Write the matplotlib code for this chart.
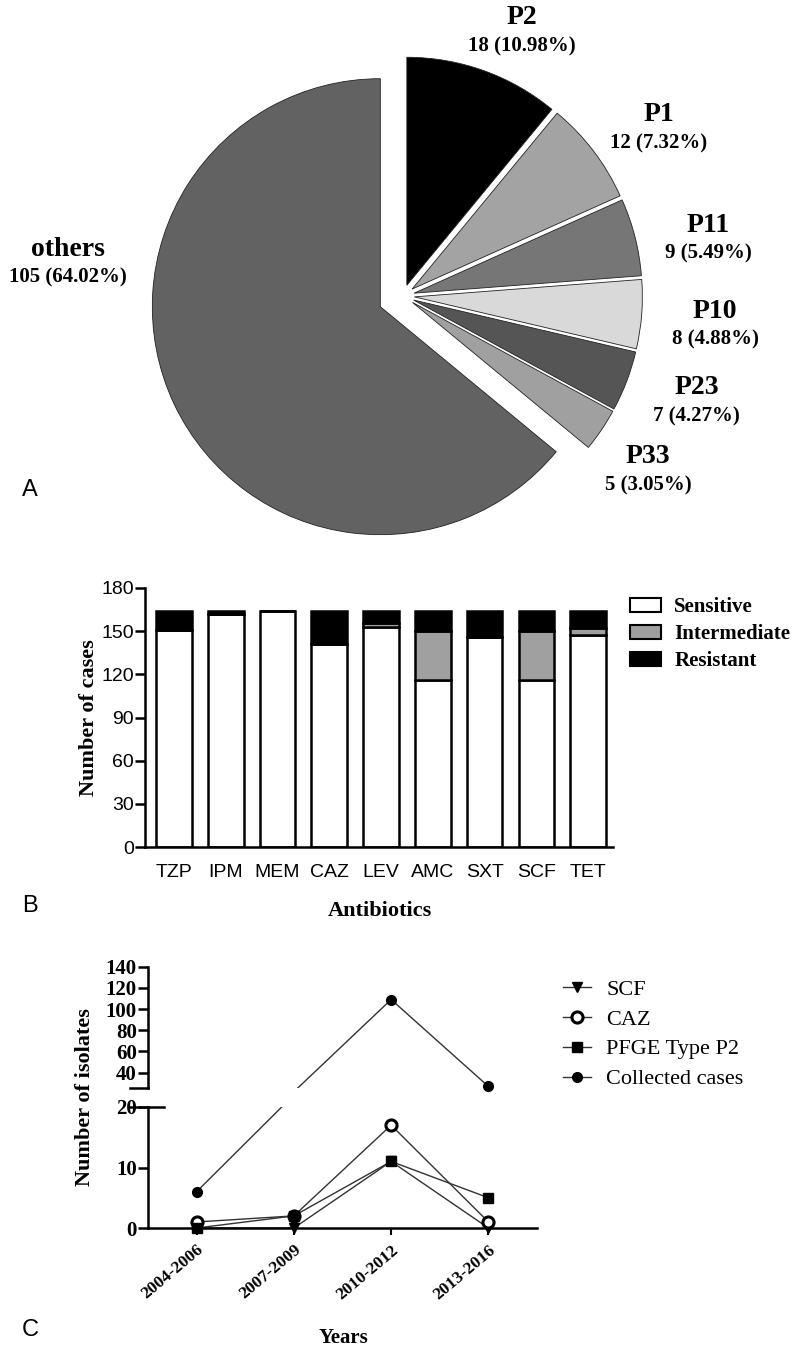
import numpy as np
import matplotlib
matplotlib.use("Agg")
import matplotlib.pyplot as plt
from matplotlib.patches import Patch
from matplotlib.lines import Line2D

# ---- data ----
pie_labels = ["P2", "P1", "P11", "P10", "P23", "P33", "others"]
pie_counts = [18, 12, 9, 8, 7, 5, 105]
pie_pct = ["10.98%", "7.32%", "5.49%", "4.88%", "4.27%", "3.05%", "64.02%"]
pie_colors = ["#000000", "#a3a3a3", "#767676", "#d9d9d9", "#555555", "#a0a0a0", "#626262"]

antibiotics = ["TZP", "IPM", "MEM", "CAZ", "LEV", "AMC", "SXT", "SCF", "TET"]
sensitive = [151, 162, 164, 141, 153, 116, 146, 116, 147]
intermediate = [0, 0, 0, 0, 3, 34, 0, 34, 5]
resistant = [13, 2, 0, 23, 8, 14, 18, 14, 12]

years = ["2004-2006", "2007-2009", "2010-2012", "2013-2016"]
scf = [0, 0, 11, 0]
caz = [1, 2, 17, 1]
pfge_p2 = [0, 2, 11, 5]
collected = [6, 22, 109, 27]

W, H = 800, 1355
SERIF = "Liberation Serif"
SANS = "Liberation Sans"

fig = plt.figure(figsize=(W / 100, H / 100), dpi=100)


def px_axes(x0, y0, x1, y1):
    return fig.add_axes([x0 / W, 1 - y1 / H, (x1 - x0) / W, (y1 - y0) / H])


def fig_xy(x, y):
    return x / W, 1 - y / H


# ---- panel A: pie ----
R = 228.0
Ox, Oy = 403.0, 296.0
ax_a = px_axes(0, 0, 800, 500)
explode = [0.05] * 6 + [0.11]
wedges, _ = ax_a.pie(pie_counts, colors=pie_colors, startangle=90, counterclock=False,
                     explode=explode, radius=1.0,
                     wedgeprops=dict(edgecolor="#222222", linewidth=0.6))
ax_a.set_aspect("auto")
ax_a.set_xlim(-Ox / R, (W - Ox) / R)
ax_a.set_ylim(-(500 - Oy) / R, Oy / R)
ax_a.axis("off")

# label placement around each slice: distance (radii) and angle nudge (deg)
label_dist = [1.27, 1.34, 1.36, 1.375, 1.37, 1.32]
label_shift = [-4.5, -4.2, -3.8, -1.0, 1.0, -1.5]
for i, w in enumerate(wedges):
    if pie_labels[i] == "others":
        ang = np.deg2rad(174.5)
        dist = 1.475
    else:
        ang = np.deg2rad((w.theta1 + w.theta2) / 2 + label_shift[i])
        dist = label_dist[i]
    cx, cy = dist * np.cos(ang), dist * np.sin(ang)
    ax_a.text(cx, cy + 0.062, pie_labels[i], ha="center", va="center",
              family=SERIF, weight="bold", fontsize=20)
    ax_a.text(cx, cy - 0.062, f"{pie_counts[i]} ({pie_pct[i]})", ha="center", va="center",
              family=SERIF, weight="bold", fontsize=15)

# ---- panel B: stacked bars ----
ax_b = px_axes(145, 588, 613, 847)
x = np.arange(len(antibiotics))
bar_kw = dict(width=0.69, edgecolor="black", linewidth=1.8)
ax_b.bar(x, sensitive, color="white", **bar_kw)
ax_b.bar(x, intermediate, bottom=sensitive, color="#a0a0a0", **bar_kw)
ax_b.bar(x, resistant, bottom=np.add(sensitive, intermediate), color="black", **bar_kw)
ax_b.set_xlim(-0.56, 8.48)
ax_b.set_ylim(0, 180)
ax_b.set_yticks(range(0, 181, 30))
ax_b.set_xticks(x)
ax_b.set_xticklabels(antibiotics, family=SANS, fontsize=14)
for lab in ax_b.get_yticklabels():
    lab.set_family(SANS)
    lab.set_fontsize(14)
ax_b.tick_params(axis="y", direction="out", length=7, width=1.8, pad=1)
ax_b.tick_params(axis="x", length=0, pad=12)
for s in ["top", "right"]:
    ax_b.spines[s].set_visible(False)
for s in ["left", "bottom"]:
    ax_b.spines[s].set_linewidth(1.8)
ax_b.set_ylabel("Number of cases", family=SERIF, weight="bold", fontsize=16)
ax_b.yaxis.set_label_coords(-0.099, 0.5)
ax_b.set_xlabel("Antibiotics", family=SERIF, weight="bold", fontsize=16)
ax_b.xaxis.set_label_coords(0.502, -0.208)

leg_b = [Patch(facecolor="white", edgecolor="black", linewidth=1.5, label="Sensitive"),
         Patch(facecolor="#a0a0a0", edgecolor="black", linewidth=1.5, label="Intermediate"),
         Patch(facecolor="black", edgecolor="black", linewidth=1.5, label="Resistant")]
fig.legend(handles=leg_b, loc="upper left", bbox_to_anchor=fig_xy(620, 587), frameon=False,
           prop=dict(family=SERIF, weight="bold", size=15), handlelength=1.45,
           handleheight=0.68, handletextpad=0.65, labelspacing=0.33, borderpad=0)

# ---- panel C: broken axis lines ----
ax_lo = px_axes(148, 1107, 537, 1228)
ax_hi = px_axes(148, 966.7, 537, 1088)
xc = np.arange(len(years))
series = [(scf, dict(marker="v", ms=7, mfc="black", mec="black")),
          (caz, dict(marker="o", ms=8, mfc="white", mec="black", mew=2.2)),
          (pfge_p2, dict(marker="s", ms=7, mfc="black", mec="black")),
          (collected, dict(marker="o", ms=7, mfc="black", mec="black"))]

for ax, lo, hi in [(ax_lo, 0, 20), (ax_hi, 25.5, 140)]:
    ax.set_xlim(-0.5, 3.5)
    ax.set_ylim(lo, hi)
    for vals, mk in series:
        ax.plot(xc, vals, color="#333333", lw=1.0, zorder=2)
        v = np.array(vals, dtype=float)
        keep = (v >= lo) & (v <= hi)
        ax.plot(xc[keep], v[keep], ls="none", clip_on=False, zorder=3, **mk)
    for s in ["top", "right"]:
        ax.spines[s].set_visible(False)
    ax.spines["left"].set_linewidth(1.8)
    ax.tick_params(axis="y", direction="out", length=7, width=1.8, pad=1)

ax_lo.spines["bottom"].set_linewidth(1.8)
ax_lo.set_yticks([0, 10, 20])
ax_lo.set_yticklabels(["0", "10", "20"], family=SERIF, weight="bold", fontsize=15)
ax_lo.set_xticks(xc)
ax_lo.set_xticklabels(years, family=SERIF, weight="bold", fontsize=12.5,
                      rotation=40, ha="right", rotation_mode="anchor")
ax_lo.tick_params(axis="x", direction="out", length=5, width=1.5, pad=5)
# break mark on the lower axis top
ax_lo.plot([-0.045, 0.04], [1, 1], transform=ax_lo.transAxes, color="black",
           lw=1.8, clip_on=False)

ax_hi.spines["bottom"].set_visible(False)
ax_hi.set_xticks([])
ax_hi.set_yticks(range(40, 141, 20))
ax_hi.set_yticklabels([str(t) for t in range(40, 141, 20)], family=SERIF,
                      weight="bold", fontsize=15)
ax_hi.plot([-0.045, 0], [0, 0], transform=ax_hi.transAxes, color="black",
           lw=1.8, clip_on=False)

fig.text(*fig_xy(85, 1097), "Number of isolates", rotation=90, ha="center", va="center",
         family=SERIF, weight="bold", fontsize=16)
fig.text(*fig_xy(343, 1338), "Years", ha="center", va="center",
         family=SERIF, weight="bold", fontsize=15)

leg_c = [Line2D([], [], color="#333333", lw=1.0, label=lab, **mk)
         for lab, (vals, mk) in zip(["SCF", "CAZ", "PFGE Type P2", "Collected cases"], series)]
fig.legend(handles=leg_c, loc="upper left", bbox_to_anchor=fig_xy(552, 968), frameon=False,
           prop=dict(family=SERIF, size=16), handlelength=1.25, handletextpad=0.7,
           labelspacing=0.42, borderpad=0)

# panel letters
for letter, (lx, ly) in zip("ABC", [(30, 490), (30, 906), (30, 1330)]):
    fig.text(*fig_xy(lx, ly), letter, ha="center", va="center", family=SANS, fontsize=17)

fig.savefig("out.png", dpi=100, facecolor="white")
